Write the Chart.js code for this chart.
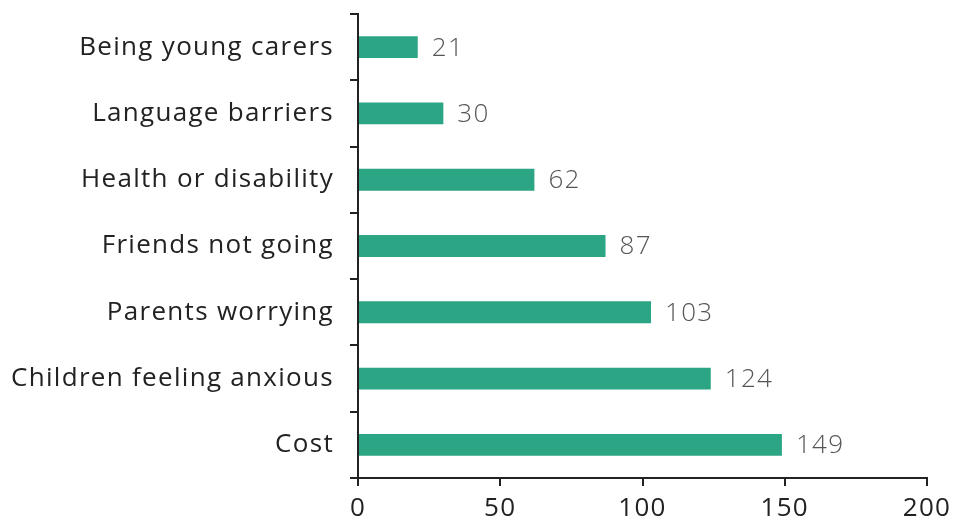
<!DOCTYPE html>
<html><head><meta charset="utf-8">
<script src="https://cdn.jsdelivr.net/npm/chart.js@4/dist/chart.umd.min.js"></script>
<style>html,body{margin:0;padding:0;background:#fff}#wrap{width:954px;height:522px}</style>
</head><body><div id="wrap"><canvas id="c" width="954" height="522"></canvas></div>
<script>
const categories = ["Being young carers","Language barriers","Health or disability","Friends not going","Parents worrying","Children feeling anxious","Cost"];
const values = [21,30,62,87,103,124,149];
const xTicks = [0,50,100,150,200];

const FONT = "'Open Sans', sans-serif";
const spacing = {
  id:'spacing',
  beforeInit(chart){ chart.ctx.letterSpacing = '1.3px'; },
  beforeDraw(chart){ chart.ctx.letterSpacing = '1.3px'; }
};
const valueLabels = {
  id:'valueLabels',
  afterDatasetsDraw(chart){
    const {ctx} = chart;
    const meta = chart.getDatasetMeta(0);
    ctx.save();
    ctx.font = "300 26px " + FONT;
    ctx.fillStyle = "#555";
    ctx.textBaseline = "middle";
    ctx.textAlign = "left";
    meta.data.forEach((bar,i)=>{
      ctx.fillText(String(values[i]), bar.x + 14, bar.y + 1);
    });
    ctx.restore();
  }
};

new Chart(document.getElementById('c'),{
  type:'bar',
  data:{labels:categories,datasets:[{data:values,backgroundColor:'#2ca584',barPercentage:0.66,categoryPercentage:0.5}]},
  options:{
    indexAxis:'y',responsive:false,animation:false,
    layout:{padding:{top:14,right:27,bottom:0,left:0}},
    plugins:{legend:{display:false},tooltip:{enabled:false}},
    scales:{
      x:{min:0,max:200,
        afterBuildTicks(s){s.ticks = xTicks.map(v=>({value:v}));},
        grid:{drawOnChartArea:false,tickLength:8,color:'#222',lineWidth:2},
        border:{color:'#222',width:2},
        ticks:{color:'#222',font:{family:FONT,size:26},padding:7,maxRotation:0},
        afterFit(s){s.height = 44; s.paddingRight = 0;}
      },
      y:{
        grid:{drawOnChartArea:false,tickLength:8,color:'#222',lineWidth:2,offset:true},
        border:{color:'#222',width:2},
        ticks:{color:'#222',font:{family:FONT,size:26},padding:16},
        afterFit(s){s.width = 358; s.paddingTop = 0; s.paddingBottom = 0;}
      }
    }
  },
  plugins:[spacing, valueLabels]
});
</script></body></html>
